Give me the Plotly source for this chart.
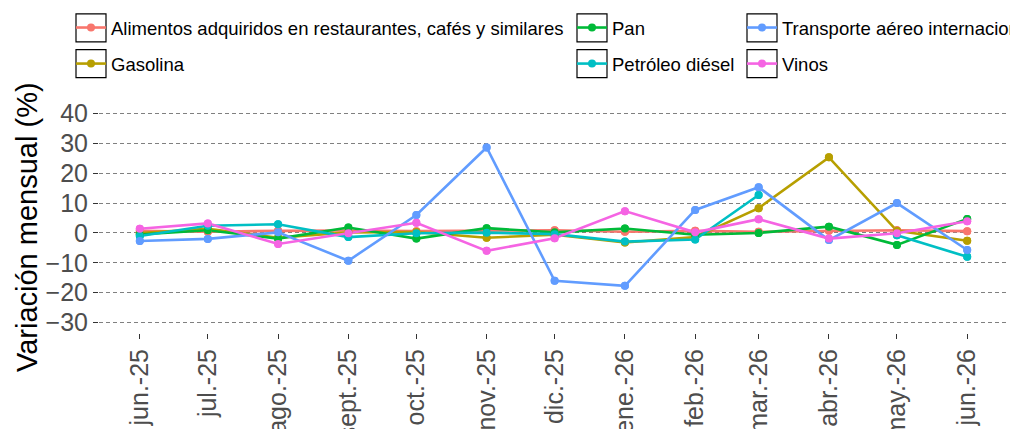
import plotly.graph_objects as go

months = ["2025-06-01", "2025-07-01", "2025-08-01", "2025-09-01", "2025-10-01", "2025-11-01",
          "2025-12-01", "2026-01-01", "2026-02-01", "2026-03-01", "2026-04-01", "2026-05-01",
          "2026-06-01"]
tick_labels = ["jun.-25", "jul.-25", "ago.-25", "sept.-25", "oct.-25", "nov.-25", "dic.-25",
               "ene.-26", "feb.-26", "mar.-26", "abr.-26", "may.-26", "jun.-26"]

alimentos = [0.7, 0.4, 0.7, 0.8, 0.6, 0.8, 0.9, 0.4, 0.7, 0.4, 0.7, 0.9, 0.6]
gasolina = [0.0, 1.4, -1.6, 0.2, 0.3, -1.6, -0.6, -3.2, -1.4, 8.3, 25.3, 0.7, -2.6]
pan = [-0.5, 0.9, -1.9, 1.8, -1.9, 1.6, 0.2, 1.5, -0.6, 0.0, 2.1, -4.0, 4.7]
diesel = [-1.0, 2.4, 2.9, -1.4, -0.1, 0.1, -0.4, -2.9, -2.2, 12.7, None, -0.8, -8.0]
transporte = [-2.7, -2.0, 0.2, -9.3, 6.0, 28.6, -16.0, -17.7, 7.7, 15.3, -2.4, 10.0, -5.7]
vinos = [1.4, 3.2, -3.7, -0.1, 3.4, -6.0, -1.8, 7.3, 0.2, 4.6, -1.9, -0.1, 3.9]

series = [
    ("Alimentos adquiridos en restaurantes, cafés y similares", alimentos, "#F8766D", "legend"),
    ("Gasolina", gasolina, "#B79F00", "legend"),
    ("Pan", pan, "#00BA38", "legend2"),
    ("Petróleo diésel", diesel, "#00BFC4", "legend2"),
    ("Transporte aéreo internacional", transporte, "#619CFF", "legend3"),
    ("Vinos", vinos, "#F564E3", "legend3"),
]

y_ticks = [-30, -20, -10, 0, 10, 20, 30, 40]
y_title = "Variación mensual (%)"

fig = go.Figure()
for name, vals, col, leg in series:
    fig.add_trace(go.Scatter(
        x=months, y=vals, name=name, mode="lines+markers",
        line=dict(color=col, width=2.6), marker=dict(color=col, size=8),
        legend=leg, legendgroup=name, connectgaps=False,
    ))
for name, vals, col, leg in series:
    fig.add_trace(go.Scatter(
        x=months, y=vals, mode="markers", marker=dict(color=col, size=8),
        showlegend=False, hoverinfo="skip",
    ))

# page body has an 8px margin; figure coords = screen coords - 8
W, H = 1018, 429
L, R, T, B = 91, 18, 95, 104
pw, ph = W - L - R, H - T - B

def px_x(px):
    return (px - L) / pw

def px_y(py):
    return (H - B - py) / ph

leg_font = dict(family="Liberation Sans, Arial, sans-serif", size=18.5, color="#000000")
common_leg = dict(orientation="v", xanchor="left", yanchor="top", font=leg_font,
                  bgcolor="rgba(0,0,0,0)", tracegroupgap=9, itemwidth=30)

leg_origins = [63, 564, 734]
row_centers = [19.8, 55.7]
shapes = []
for o in leg_origins:
    for c in row_centers:
        shapes.append(dict(type="rect", xref="paper", yref="paper",
                           x0=px_x(o + 5), x1=px_x(o + 35), y0=px_y(c + 14), y1=px_y(c - 14),
                           line=dict(color="#000000", width=1.2), fillcolor="rgba(0,0,0,0)",
                           layer="above"))

fig.update_layout(
    width=W, height=H,
    margin=dict(l=L, r=R, t=T, b=B, autoexpand=False),
    plot_bgcolor="white", paper_bgcolor="white",
    font=dict(family="Liberation Sans, Arial, sans-serif"),
    legend=dict(x=px_x(leg_origins[0]), y=px_y(1), **common_leg),
    legend2=dict(x=px_x(leg_origins[1]), y=px_y(1), **common_leg),
    legend3=dict(x=px_x(leg_origins[2]), y=px_y(1), **common_leg),
    shapes=shapes,
    annotations=[dict(text=y_title, textangle=-90, xref="paper", yref="paper",
                      x=px_x(19), y=px_y(219), xanchor="center", yanchor="middle",
                      showarrow=False, font=dict(size=29, color="#000000"))],
    xaxis=dict(
        type="date", range=["2025-05-14", "2026-06-19"],
        tickmode="array", tickvals=months, ticktext=tick_labels, tickangle=-90,
        tickfont=dict(size=25, color="#4d4d4d"),
        ticks="outside", ticklen=5, tickcolor="#333333", tickwidth=1,
        showgrid=False, zeroline=False, showline=False,
    ),
    yaxis=dict(
        range=[-33.5, 43.5], tickmode="array", tickvals=y_ticks,
        tickfont=dict(size=25, color="#4d4d4d"),
        ticks="outside", ticklen=5, tickcolor="#333333", tickwidth=1,
        showgrid=True, gridcolor="#808080", gridwidth=1.1, griddash="4px,3px",
        zeroline=False, showline=False,
    ),
    showlegend=True,
)

fig.write_html("out.html")
